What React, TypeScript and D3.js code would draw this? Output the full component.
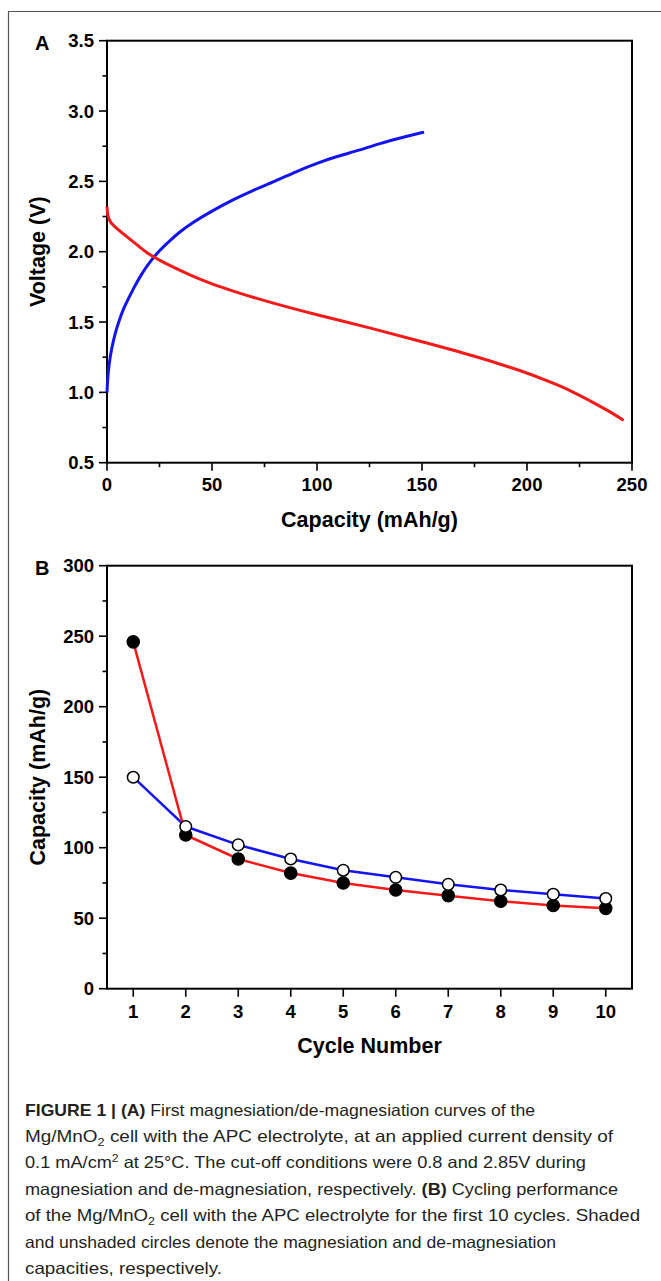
import React from "react";
import * as d3 from "d3";

// ---------- Data ----------
// Panel A: first magnesiation (red) / de-magnesiation (blue) curves
const redCapacity = [0, 0.3, 1, 2, 5, 10, 15, 20, 25, 30, 40, 50, 60, 75, 100, 125, 150, 175, 200, 210, 220, 230, 240, 246];
const redVoltage = [2.32, 2.26, 2.23, 2.2, 2.16, 2.1, 2.04, 1.98, 1.94, 1.9, 1.83, 1.77, 1.72, 1.65, 1.55, 1.46, 1.36, 1.26, 1.14, 1.08, 1.02, 0.94, 0.86, 0.8];
const blueCapacity = [0, 0.3, 1, 2, 4, 6, 8, 10, 13, 16, 20, 25, 30, 35, 40, 50, 60, 70, 80, 90, 100, 110, 120, 130, 140, 151];
const blueVoltage = [1.0, 1.1, 1.2, 1.3, 1.43, 1.52, 1.6, 1.66, 1.75, 1.83, 1.92, 2.01, 2.08, 2.145, 2.2, 2.29, 2.37, 2.44, 2.5, 2.57, 2.63, 2.68, 2.72, 2.77, 2.81, 2.85];

// Panel B: cycling performance
const cycles = [1, 2, 3, 4, 5, 6, 7, 8, 9, 10];
const magnesiationCap = [246, 109, 92, 82, 75, 70, 66, 62, 59, 57];
const demagnesiationCap = [150, 115, 102, 92, 84, 79, 74, 70, 67, 64];

// Tick labels
const aYTicks = [0.5, 1.0, 1.5, 2.0, 2.5, 3.0, 3.5];
const aXTicks = [0, 50, 100, 150, 200, 250];
const bYTicks = [0, 50, 100, 150, 200, 250, 300];
const bXTicks = [1, 2, 3, 4, 5, 6, 7, 8, 9, 10];

const RED = "#f41a1a";
const BLUE = "#1414f0";
const FONT = "'Liberation Sans', Arial, Helvetica, sans-serif";

export default function App() {
  // Scales
  const ax = d3.scaleLinear().domain([0, 250]).range([107, 632]);
  const ay = d3.scaleLinear().domain([0.5, 3.5]).range([462.7, 40.7]);
  const bx = d3.scaleLinear().domain([0.5, 10.5]).range([107, 632]);
  const by = d3.scaleLinear().domain([0, 300]).range([988.7, 565.7]);

  const lineA = d3
    .line<[number, number]>()
    .x((d) => ax(d[0]))
    .y((d) => ay(d[1]))
    .curve(d3.curveBasis);
  const redPts: [number, number][] = redCapacity.map((c, i) => [c, redVoltage[i]]);
  const bluePts: [number, number][] = blueCapacity.map((c, i) => [c, blueVoltage[i]]);

  const lineB = d3
    .line<[number, number]>()
    .x((d) => bx(d[0]))
    .y((d) => by(d[1]));
  const magPts: [number, number][] = cycles.map((c, i) => [c, magnesiationCap[i]]);
  const demPts: [number, number][] = cycles.map((c, i) => [c, demagnesiationCap[i]]);

  const aYMinor = d3.range(0.75, 3.5, 0.5);
  const aXMinor = d3.range(25, 250, 50);
  const bYMinor = d3.range(25, 300, 50);

  const tickStroke = { stroke: "#000", strokeWidth: 1.6 };
  const tickFont = { fontFamily: FONT, fontWeight: 700, fontSize: 18.5, fill: "#000" };
  const titleFont = { fontFamily: FONT, fontWeight: 700, fontSize: 21.5, fill: "#000" };

  const captionStyle = { fontFamily: FONT, fontSize: 16.5, fill: "#231f20" };
  const sub = (t: string) => (
    <tspan fontSize={11} dy={4}>
      {t}
    </tspan>
  );
  const unsub = (t: string) => <tspan dy={-4}>{t}</tspan>;

  const [l, r] = [107, 632];

  return (
    <svg
      width={661}
      height={1281}
      style={{ position: "absolute", left: 0, top: 0, background: "#fff" }}
    >
      <rect x={0} y={0} width={661} height={1281} fill="#fff" />
      {/* outer frame */}
      <path d="M8.5,1281 L8.5,11.5 L661,11.5" fill="none" stroke="#555" strokeWidth={1.2} />

      {/* ---------------- Panel A ---------------- */}
      <text x={35} y={50} {...titleFont} fontSize={20}>
        A
      </text>
      <rect x={l} y={ay(3.5)} width={r - l} height={ay(0.5) - ay(3.5)} fill="none" stroke="#000" strokeWidth={2} />
      {aYTicks.map((t) => (
        <g key={"ay" + t}>
          <line x1={l - 8} x2={l} y1={ay(t)} y2={ay(t)} {...tickStroke} />
          <text x={l - 13} y={ay(t) + 6.5} textAnchor="end" {...tickFont}>
            {t.toFixed(1)}
          </text>
        </g>
      ))}
      {aYMinor.map((t) => (
        <line key={"aym" + t} x1={l - 4.5} x2={l} y1={ay(t)} y2={ay(t)} {...tickStroke} />
      ))}
      {aXTicks.map((t) => (
        <g key={"ax" + t}>
          <line x1={ax(t)} x2={ax(t)} y1={ay(0.5)} y2={ay(0.5) + 8} {...tickStroke} />
          <text x={ax(t)} y={ay(0.5) + 28} textAnchor="middle" {...tickFont}>
            {t}
          </text>
        </g>
      ))}
      {aXMinor.map((t) => (
        <line key={"axm" + t} x1={ax(t)} x2={ax(t)} y1={ay(0.5)} y2={ay(0.5) + 4.5} {...tickStroke} />
      ))}
      <text x={(l + r) / 2} y={527} textAnchor="middle" {...titleFont}>
        Capacity (mAh/g)
      </text>
      <text transform={`translate(45,${(ay(0.5) + ay(3.5)) / 2}) rotate(-90)`} textAnchor="middle" {...titleFont}>
        Voltage (V)
      </text>
      <path d={lineA(bluePts) || ""} fill="none" stroke={BLUE} strokeWidth={3} />
      <path d={lineA(redPts) || ""} fill="none" stroke={RED} strokeWidth={3} />

      {/* ---------------- Panel B ---------------- */}
      <text x={35} y={575} {...titleFont} fontSize={20}>
        B
      </text>
      <rect x={l} y={by(300)} width={r - l} height={by(0) - by(300)} fill="none" stroke="#000" strokeWidth={2} />
      {bYTicks.map((t) => (
        <g key={"by" + t}>
          <line x1={l - 8} x2={l} y1={by(t)} y2={by(t)} {...tickStroke} />
          <text x={l - 13} y={by(t) + 6.5} textAnchor="end" {...tickFont}>
            {t}
          </text>
        </g>
      ))}
      {bYMinor.map((t) => (
        <line key={"bym" + t} x1={l - 4.5} x2={l} y1={by(t)} y2={by(t)} {...tickStroke} />
      ))}
      {bXTicks.map((t) => (
        <g key={"bx" + t}>
          <line x1={bx(t)} x2={bx(t)} y1={by(0)} y2={by(0) + 8} {...tickStroke} />
          <text x={bx(t)} y={by(0) + 29} textAnchor="middle" {...tickFont}>
            {t}
          </text>
        </g>
      ))}
      <text x={(l + r) / 2} y={1053} textAnchor="middle" {...titleFont}>
        Cycle Number
      </text>
      <text transform={`translate(45,${(by(0) + by(300)) / 2}) rotate(-90)`} textAnchor="middle" {...titleFont}>
        Capacity (mAh/g)
      </text>
      <path d={lineB(demPts) || ""} fill="none" stroke={BLUE} strokeWidth={2.5} />
      <path d={lineB(magPts) || ""} fill="none" stroke={RED} strokeWidth={2.5} />
      {magPts.map((p, i) => (
        <circle key={"m" + i} cx={bx(p[0])} cy={by(p[1])} r={6.2} fill="#000" stroke="#000" strokeWidth={1.2} />
      ))}
      {demPts.map((p, i) => (
        <circle key={"d" + i} cx={bx(p[0])} cy={by(p[1])} r={5.8} fill="#fff" stroke="#000" strokeWidth={1.5} />
      ))}

      {/* ---------------- Caption ---------------- */}
      <g {...captionStyle}>
        <text x={25} y={1116} textLength={510} lengthAdjust="spacingAndGlyphs">
          <tspan fontWeight={700}>FIGURE 1 | (A)</tspan> First magnesiation/de-magnesiation curves of the
        </text>
        <text x={25} y={1142} textLength={588} lengthAdjust="spacingAndGlyphs">
          Mg/MnO{sub("2")}
          {unsub(" cell with the APC electrolyte, at an applied current density of")}
        </text>
        <text x={25} y={1168} textLength={561} lengthAdjust="spacingAndGlyphs">
          0.1 mA/cm
          <tspan fontSize={11} dy={-6}>
            2
          </tspan>
          <tspan dy={6}> at 25°C. The cut-off conditions were 0.8 and 2.85V during</tspan>
        </text>
        <text x={25} y={1195} textLength={593} lengthAdjust="spacingAndGlyphs">
          magnesiation and de-magnesiation, respectively. <tspan fontWeight={700}>(B)</tspan> Cycling performance
        </text>
        <text x={25} y={1221} textLength={615} lengthAdjust="spacingAndGlyphs">
          of the Mg/MnO{sub("2")}
          {unsub(" cell with the APC electrolyte for the first 10 cycles. Shaded")}
        </text>
        <text x={25} y={1248} textLength={531} lengthAdjust="spacingAndGlyphs">
          and unshaded circles denote the magnesiation and de-magnesiation
        </text>
        <text x={25} y={1274} textLength={197} lengthAdjust="spacingAndGlyphs">
          capacities, respectively.
        </text>
      </g>
    </svg>
  );
}
